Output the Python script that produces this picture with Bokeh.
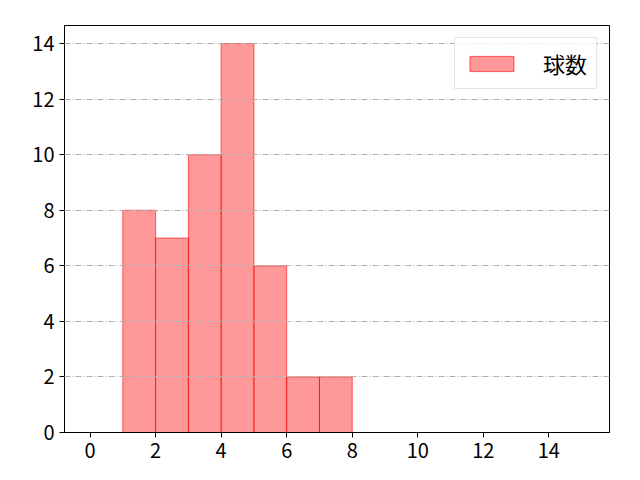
import numpy as np
from bokeh.models import Range1d, FixedTicker, Legend, LegendItem
from bokeh.plotting import figure
from bokeh.embed import file_html
from bokeh.resources import INLINE

# histogram of pitch counts
bin_edges = [1, 2, 3, 4, 5, 6, 7, 8]
counts = [8, 7, 10, 14, 6, 2, 2]
series_label = "球数"
x_ticks = [0, 2, 4, 6, 8, 10, 12, 14]
y_ticks = [0, 2, 4, 6, 8, 10, 12, 14]

font = "Noto Sans CJK JP"

p = figure(
    width=624,
    height=464,
    output_backend="svg",
    toolbar_location=None,
    x_range=Range1d(-0.78, 15.85),
    y_range=Range1d(0, 14.65),
    min_border_left=64,
    min_border_right=15,
    min_border_top=25,
    min_border_bottom=32,
)

bars = p.quad(
    left=bin_edges[:-1],
    right=bin_edges[1:],
    top=counts,
    bottom=0,
    fill_color="red",
    fill_alpha=0.4,
    line_color="red",
    line_alpha=0.6,
    line_width=1,
)

p.xgrid.visible = False
p.ygrid.grid_line_color = "#b0b0b0"
p.ygrid.grid_line_dash = "6 2 1 2"
p.ygrid.grid_line_width = 1
p.ygrid.level = "guide"

p.outline_line_color = "black"
p.outline_line_width = 1

for ax, ticks in ((p.xaxis, x_ticks), (p.yaxis, y_ticks)):
    ax.ticker = FixedTicker(ticks=ticks)
    ax.major_label_text_font = font
    ax.major_label_text_font_size = "20px"
    ax.major_label_text_color = "black"
    ax.major_label_standoff = 5
    ax.axis_line_color = "black"
    ax.major_tick_line_color = "black"
    ax.major_tick_out = 5
    ax.major_tick_in = 0
    ax.minor_tick_line_color = None

legend = Legend(
    items=[LegendItem(label=series_label, renderers=[bars])],
    location="top_right",
    label_text_font=font,
    label_text_font_size="22px",
    label_text_color="black",
    label_standoff=24,
    glyph_width=55,
    glyph_height=19,
    padding=9,
    margin=12,
    border_line_color="#cccccc",
    background_fill_alpha=0.8,
)
p.add_layout(legend)

open("out.html", "w").write(file_html(p, INLINE))
